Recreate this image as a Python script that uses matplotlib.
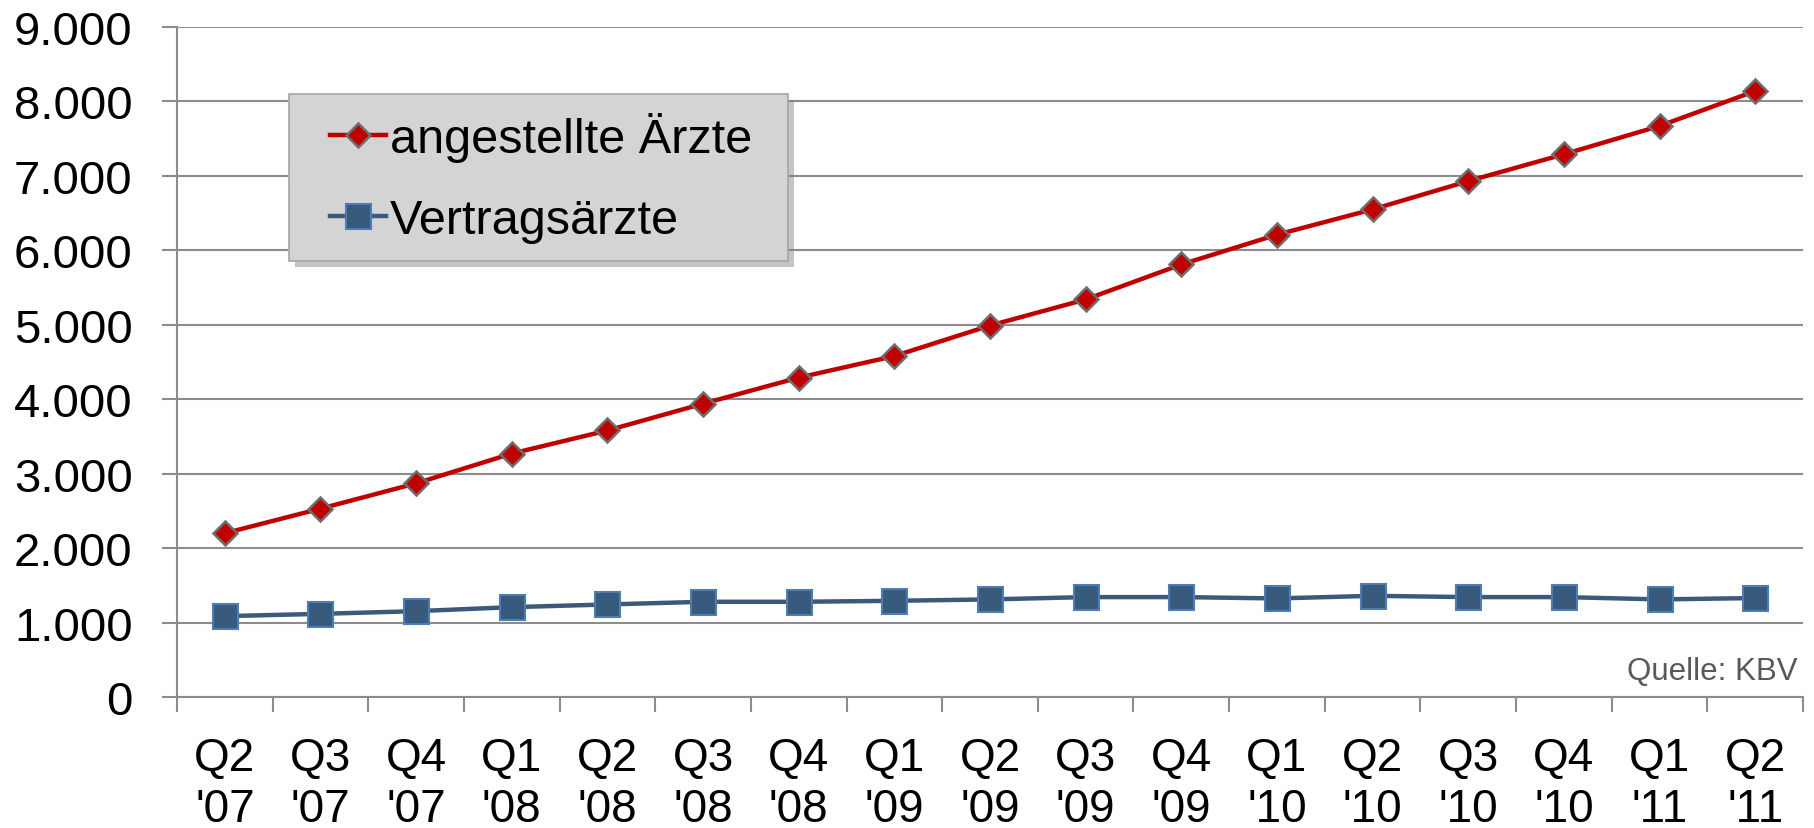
import matplotlib.pyplot as plt
from matplotlib.patches import Rectangle
from matplotlib.patheffects import withSimplePatchShadow
from matplotlib.ticker import FixedLocator, FuncFormatter

plt.rcParams['font.family'] = ['Liberation Sans', 'DejaVu Sans']

quarters = ["Q2\n'07", "Q3\n'07", "Q4\n'07", "Q1\n'08", "Q2\n'08", "Q3\n'08",
            "Q4\n'08", "Q1\n'09", "Q2\n'09", "Q3\n'09", "Q4\n'09", "Q1\n'10",
            "Q2\n'10", "Q3\n'10", "Q4\n'10", "Q1\n'11", "Q2\n'11"]
angestellte = [2200, 2530, 2870, 3270, 3580, 3940, 4290, 4580, 4990,
               5340, 5810, 6210, 6550, 6930, 7290, 7670, 8140]
vertragsaerzte = [1086, 1117, 1153, 1207, 1243, 1279, 1279, 1292, 1311,
                  1342, 1342, 1324, 1359, 1342, 1342, 1311, 1329]

grid_gray = '#8c8c8c'
W, H = 1814, 829

fig = plt.figure(figsize=(W / 100, H / 100), dpi=100)
ax = fig.add_axes([177/W, 1 - 698/H, (1803 - 177)/W, (698 - 28)/H])

x = list(range(len(quarters)))

l1, = ax.plot(x, angestellte, color='#c00000', lw=3.2, marker='D', ms=12,
              markerfacecolor='#c00000', markeredgecolor='#6e6e6e', mew=1.8,
              label='angestellte Ärzte', zorder=3)
l2, = ax.plot(x, vertragsaerzte, color='#3b5a7a', lw=3.2, marker='s', ms=18,
              markerfacecolor='#385a7c', markeredgecolor='#4d7db3', mew=1.5,
              label='Vertragsärzte', zorder=3)

ax.set_xlim(-0.5, len(quarters) - 0.5)
ax.set_ylim(0, 9000)
ax.set_yticks(range(0, 9001, 1000))
ax.yaxis.set_major_formatter(FuncFormatter(lambda v, p: f"{v:,.0f}".replace(',', '.')))
ax.grid(axis='y', color=grid_gray, lw=1.5)
ax.set_axisbelow(True)

ax.set_xticks(x)
ax.set_xticklabels(quarters, linespacing=1.2)
ax.xaxis.set_minor_locator(FixedLocator([i - 0.5 for i in range(len(quarters) + 1)]))

ax.tick_params(axis='x', which='major', length=0, pad=28, labelsize=33)
ax.tick_params(axis='x', which='minor', length=11, width=1.5, color=grid_gray)
ax.tick_params(axis='y', length=11, width=1.5, color=grid_gray, pad=21, labelsize=34)

for side in ['top', 'right']:
    ax.spines[side].set_visible(False)
for side in ['left', 'bottom']:
    ax.spines[side].set_color(grid_gray)
    ax.spines[side].set_linewidth(1.5)

ax.text(0.997, 0.017, 'Quelle: KBV', transform=ax.transAxes, ha='right', va='bottom',
        fontsize=22.5, color='#595959')

# legend box drawn by hand, so padding can differ horizontally/vertically
box = Rectangle((289/W, 1 - 262/H), (788 - 289)/W, (262 - 95)/H,
                transform=fig.transFigure, facecolor='#d4d4d4', edgecolor='#a6a6a6',
                lw=1.2, zorder=4,
                path_effects=[withSimplePatchShadow(offset=(4, -4), shadow_rgbFace='#7f7f7f', alpha=0.45)])
fig.patches.append(box)

leg = fig.legend(handles=[l1, l2], loc='center left',
                 bbox_to_anchor=(330/W, 1 - 178.5/H), borderaxespad=0, borderpad=0,
                 fontsize=35, frameon=False, handlelength=1.15,
                 handletextpad=0.08, labelspacing=0.76)
leg.set_zorder(5)

fig.savefig('out.png', dpi=100)
